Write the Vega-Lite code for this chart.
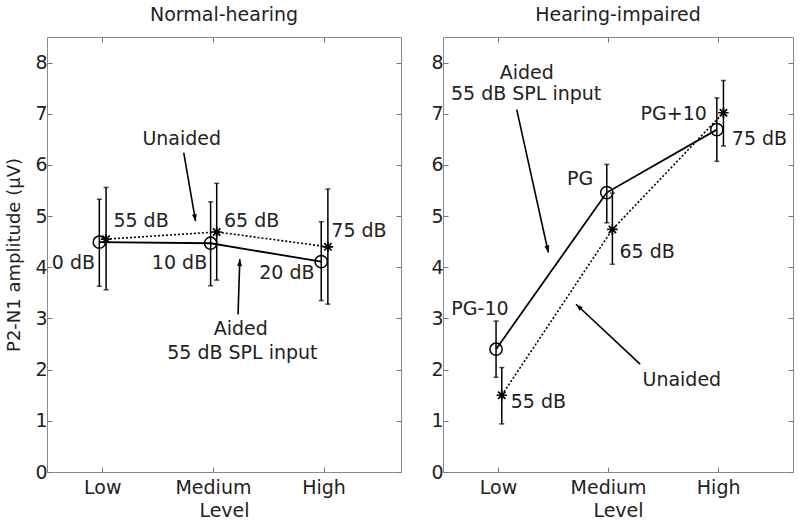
{
  "$schema": "https://vega.github.io/schema/vega-lite/v6.json",
  "background": "white",
  "padding": 5,
  "datasets": {
    "points": [
      {"panel": "NH", "level": "Low", "cond": "Aided", "x": 0.973, "mean": 4.49, "lo": 3.63, "hi": 5.33},
      {"panel": "NH", "level": "Low", "cond": "Unaided", "x": 1.034, "mean": 4.55, "lo": 3.56, "hi": 5.56},
      {"panel": "NH", "level": "Medium", "cond": "Aided", "x": 1.979, "mean": 4.47, "lo": 3.64, "hi": 5.28},
      {"panel": "NH", "level": "Medium", "cond": "Unaided", "x": 2.034, "mean": 4.69, "lo": 3.75, "hi": 5.64},
      {"panel": "NH", "level": "High", "cond": "Aided", "x": 2.979, "mean": 4.11, "lo": 3.35, "hi": 4.89},
      {"panel": "NH", "level": "High", "cond": "Unaided", "x": 3.039, "mean": 4.40, "lo": 3.28, "hi": 5.53},
      {"panel": "HI", "level": "Low", "cond": "Aided", "x": 0.982, "mean": 2.40, "lo": 1.85, "hi": 2.95},
      {"panel": "HI", "level": "Low", "cond": "Unaided", "x": 1.034, "mean": 1.50, "lo": 0.94, "hi": 2.04},
      {"panel": "HI", "level": "Medium", "cond": "Aided", "x": 1.988, "mean": 5.46, "lo": 4.87, "hi": 6.01},
      {"panel": "HI", "level": "Medium", "cond": "Unaided", "x": 2.039, "mean": 4.74, "lo": 4.06, "hi": 5.45},
      {"panel": "HI", "level": "High", "cond": "Aided", "x": 2.988, "mean": 6.69, "lo": 6.07, "hi": 7.31},
      {"panel": "HI", "level": "High", "cond": "Unaided", "x": 3.048, "mean": 7.02, "lo": 6.37, "hi": 7.65}
    ],
    "labels_center": [
      {"panel": "NH", "text": "Unaided", "x": 1.718, "y": 6.50},
      {"panel": "NH", "text": "Aided", "x": 2.252, "y": 2.79},
      {"panel": "NH", "text": "55 dB SPL input", "x": 2.266, "y": 2.32},
      {"panel": "HI", "text": "Aided", "x": 1.261, "y": 7.80},
      {"panel": "HI", "text": "55 dB SPL input", "x": 1.255, "y": 7.38},
      {"panel": "HI", "text": "PG-10", "x": 0.836, "y": 3.18},
      {"panel": "HI", "text": "PG", "x": 1.745, "y": 5.73},
      {"panel": "HI", "text": "Unaided", "x": 2.67, "y": 1.80}
    ],
    "labels_left": [
      {"panel": "NH", "text": "55 dB", "x": 1.10, "y": 4.90},
      {"panel": "NH", "text": "65 dB", "x": 2.10, "y": 4.90},
      {"panel": "NH", "text": "75 dB", "x": 3.07, "y": 4.71},
      {"panel": "HI", "text": "75 dB", "x": 3.124, "y": 6.50},
      {"panel": "HI", "text": "65 dB", "x": 2.103, "y": 4.29},
      {"panel": "HI", "text": "55 dB", "x": 1.115, "y": 1.36}
    ],
    "labels_right": [
      {"panel": "NH", "text": "0 dB", "x": 0.934, "y": 4.09},
      {"panel": "NH", "text": "10 dB", "x": 1.948, "y": 4.09},
      {"panel": "NH", "text": "20 dB", "x": 2.918, "y": 3.88},
      {"panel": "HI", "text": "PG+10", "x": 2.897, "y": 6.99}
    ],
    "arrows": [
      {"panel": "NH", "x": 1.736, "y": 6.24, "x2": 1.843, "y2": 4.90, "angle": 170.3},
      {"panel": "NH", "x": 2.227, "y": 3.08, "x2": 2.243, "y2": 4.16, "angle": 1.8},
      {"panel": "HI", "x": 1.170, "y": 7.08, "x2": 1.457, "y2": 4.29, "angle": 167.6},
      {"panel": "HI", "x": 2.291, "y": 2.107, "x2": 1.709, "y2": 3.278, "angle": 313.2}
    ]
  },
  "config": {
    "font": "DejaVu Sans",
    "view": {"stroke": "#8a8a8a", "strokeWidth": 1},
    "axis": {
      "domain": false, "grid": false,
      "labelFont": "DejaVu Sans", "labelFontSize": 19, "labelColor": "#222",
      "titleFont": "DejaVu Sans", "titleFontSize": 18, "titleFontWeight": "normal", "titleColor": "#222",
      "tickColor": "#777", "tickSize": -5, "tickWidth": 1, "labelPadding": 5
    },
    "axisBottom": {"labelPadding": 11, "titleFontSize": 19},
    "title": {"font": "DejaVu Sans", "fontSize": 19, "fontWeight": "normal", "color": "#222", "offset": 12},
    "text": {"font": "DejaVu Sans", "fontSize": 19, "color": "#222"},
    "concat": {"spacing": 28}
  },
  "hconcat": [
    {
      "width": 354, "height": 435,
      "title": {"text": "Normal-hearing"},
      "resolve": {"axis": {"x": "independent", "y": "independent"}},
      "layer": [
        {
          "data": {"name": "points"},
          "transform": [{"filter": "datum.panel == 'NH'"}],
          "mark": {"type": "rule", "color": "black", "strokeWidth": 1.5},
          "encoding": {
            "x": {"field": "x", "type": "quantitative", "scale": {"domain": [0.5, 3.7], "nice": false, "zero": false},
                  "axis": {"values": [1, 2, 3], "labelExpr": "datum.value == 1 ? 'Low' : datum.value == 2 ? 'Medium' : 'High'", "title": "Level", "titlePadding": 4}},
            "y": {"field": "lo", "type": "quantitative", "scale": {"domain": [0, 8.5], "nice": false, "zero": false},
                  "axis": {"values": [0, 1, 2, 3, 4, 5, 6, 7, 8], "title": "P2-N1 amplitude (\u03bcV)", "titlePadding": 11}},
            "y2": {"field": "hi"}
          }
        },
        {
          "data": {"name": "points"},
          "transform": [{"filter": "datum.panel == 'NH'"}],
          "mark": {"type": "point", "opacity": 0},
          "encoding": {
            "x": {"field": "x", "type": "quantitative", "axis": {"orient": "top", "values": [1, 2, 3], "labels": false, "title": null}},
            "y": {"field": "mean", "type": "quantitative", "axis": {"orient": "right", "values": [0, 1, 2, 3, 4, 5, 6, 7, 8], "labels": false, "title": null}}
          }
        },
        {
          "data": {"name": "points"},
          "transform": [{"filter": "datum.panel == 'NH'"}],
          "mark": {"type": "tick", "orient": "horizontal", "color": "black", "size": 5, "thickness": 1.5},
          "encoding": {"x": {"field": "x", "type": "quantitative", "axis": null}, "y": {"field": "lo", "type": "quantitative", "axis": null}}
        },
        {
          "data": {"name": "points"},
          "transform": [{"filter": "datum.panel == 'NH'"}],
          "mark": {"type": "tick", "orient": "horizontal", "color": "black", "size": 5, "thickness": 1.5},
          "encoding": {"x": {"field": "x", "type": "quantitative", "axis": null}, "y": {"field": "hi", "type": "quantitative", "axis": null}}
        },
        {
          "data": {"name": "points"},
          "transform": [{"filter": "datum.panel == 'NH' && datum.cond == 'Aided'"}],
          "mark": {"type": "line", "color": "black", "strokeWidth": 1.8},
          "encoding": {"x": {"field": "x", "type": "quantitative", "axis": null}, "y": {"field": "mean", "type": "quantitative", "axis": null}}
        },
        {
          "data": {"name": "points"},
          "transform": [{"filter": "datum.panel == 'NH' && datum.cond == 'Unaided'"}],
          "mark": {"type": "line", "color": "black", "strokeWidth": 1.6, "strokeDash": [2, 2]},
          "encoding": {"x": {"field": "x", "type": "quantitative", "axis": null}, "y": {"field": "mean", "type": "quantitative", "axis": null}}
        },
        {
          "data": {"name": "points"},
          "transform": [{"filter": "datum.panel == 'NH' && datum.cond == 'Aided'"}],
          "mark": {"type": "point", "shape": "circle", "filled": false, "stroke": "black", "strokeWidth": 1.5, "size": 150, "opacity": 1},
          "encoding": {"x": {"field": "x", "type": "quantitative", "axis": null}, "y": {"field": "mean", "type": "quantitative", "axis": null}}
        },
        {
          "data": {"name": "points"},
          "transform": [{"filter": "datum.panel == 'NH' && datum.cond == 'Unaided'"}],
          "mark": {"type": "point", "shape": "M-1,0L1,0M0,-1L0,1M-0.7,-0.7L0.7,0.7M-0.7,0.7L0.7,-0.7", "filled": false, "stroke": "black", "strokeWidth": 1.7, "size": 110, "opacity": 1},
          "encoding": {"x": {"field": "x", "type": "quantitative", "axis": null}, "y": {"field": "mean", "type": "quantitative", "axis": null}}
        },
        {
          "data": {"name": "arrows"},
          "transform": [{"filter": "datum.panel == 'NH'"}],
          "mark": {"type": "rule", "color": "black", "strokeWidth": 1.6},
          "encoding": {"x": {"field": "x", "type": "quantitative", "axis": null}, "y": {"field": "y", "type": "quantitative", "axis": null}, "x2": {"field": "x2"}, "y2": {"field": "y2"}}
        },
        {
          "data": {"name": "arrows"},
          "transform": [{"filter": "datum.panel == 'NH'"}],
          "mark": {"type": "point", "shape": "M0,0L-0.35,1L0.35,1Z", "filled": true, "color": "black", "size": 196, "opacity": 1},
          "encoding": {"x": {"field": "x2", "type": "quantitative", "axis": null}, "y": {"field": "y2", "type": "quantitative", "axis": null}, "angle": {"field": "angle", "type": "quantitative", "scale": null}}
        },
        {
          "data": {"name": "labels_center"},
          "transform": [{"filter": "datum.panel == 'NH'"}],
          "mark": {"type": "text", "align": "center", "baseline": "middle"},
          "encoding": {"x": {"field": "x", "type": "quantitative", "axis": null}, "y": {"field": "y", "type": "quantitative", "axis": null}, "text": {"field": "text"}}
        },
        {
          "data": {"name": "labels_left"},
          "transform": [{"filter": "datum.panel == 'NH'"}],
          "mark": {"type": "text", "align": "left", "baseline": "middle"},
          "encoding": {"x": {"field": "x", "type": "quantitative", "axis": null}, "y": {"field": "y", "type": "quantitative", "axis": null}, "text": {"field": "text"}}
        },
        {
          "data": {"name": "labels_right"},
          "transform": [{"filter": "datum.panel == 'NH'"}],
          "mark": {"type": "text", "align": "right", "baseline": "middle"},
          "encoding": {"x": {"field": "x", "type": "quantitative", "axis": null}, "y": {"field": "y", "type": "quantitative", "axis": null}, "text": {"field": "text"}}
        }
      ]
    },
    {
      "width": 350, "height": 435,
      "title": {"text": "Hearing-impaired"},
      "resolve": {"axis": {"x": "independent", "y": "independent"}},
      "layer": [
        {
          "data": {"name": "points"},
          "transform": [{"filter": "datum.panel == 'HI'"}],
          "mark": {"type": "rule", "color": "black", "strokeWidth": 1.5},
          "encoding": {
            "x": {"field": "x", "type": "quantitative", "scale": {"domain": [0.5, 3.68], "nice": false, "zero": false},
                  "axis": {"values": [1, 2, 3], "labelExpr": "datum.value == 1 ? 'Low' : datum.value == 2 ? 'Medium' : 'High'", "title": "Level", "titlePadding": 4}},
            "y": {"field": "lo", "type": "quantitative", "scale": {"domain": [0, 8.5], "nice": false, "zero": false},
                  "axis": {"values": [0, 1, 2, 3, 4, 5, 6, 7, 8], "title": null}},
            "y2": {"field": "hi"}
          }
        },
        {
          "data": {"name": "points"},
          "transform": [{"filter": "datum.panel == 'HI'"}],
          "mark": {"type": "point", "opacity": 0},
          "encoding": {
            "x": {"field": "x", "type": "quantitative", "axis": {"orient": "top", "values": [1, 2, 3], "labels": false, "title": null}},
            "y": {"field": "mean", "type": "quantitative", "axis": {"orient": "right", "values": [0, 1, 2, 3, 4, 5, 6, 7, 8], "labels": false, "title": null}}
          }
        },
        {
          "data": {"name": "points"},
          "transform": [{"filter": "datum.panel == 'HI'"}],
          "mark": {"type": "tick", "orient": "horizontal", "color": "black", "size": 5, "thickness": 1.5},
          "encoding": {"x": {"field": "x", "type": "quantitative", "axis": null}, "y": {"field": "lo", "type": "quantitative", "axis": null}}
        },
        {
          "data": {"name": "points"},
          "transform": [{"filter": "datum.panel == 'HI'"}],
          "mark": {"type": "tick", "orient": "horizontal", "color": "black", "size": 5, "thickness": 1.5},
          "encoding": {"x": {"field": "x", "type": "quantitative", "axis": null}, "y": {"field": "hi", "type": "quantitative", "axis": null}}
        },
        {
          "data": {"name": "points"},
          "transform": [{"filter": "datum.panel == 'HI' && datum.cond == 'Aided'"}],
          "mark": {"type": "line", "color": "black", "strokeWidth": 1.8},
          "encoding": {"x": {"field": "x", "type": "quantitative", "axis": null}, "y": {"field": "mean", "type": "quantitative", "axis": null}}
        },
        {
          "data": {"name": "points"},
          "transform": [{"filter": "datum.panel == 'HI' && datum.cond == 'Unaided'"}],
          "mark": {"type": "line", "color": "black", "strokeWidth": 1.6, "strokeDash": [2, 2]},
          "encoding": {"x": {"field": "x", "type": "quantitative", "axis": null}, "y": {"field": "mean", "type": "quantitative", "axis": null}}
        },
        {
          "data": {"name": "points"},
          "transform": [{"filter": "datum.panel == 'HI' && datum.cond == 'Aided'"}],
          "mark": {"type": "point", "shape": "circle", "filled": false, "stroke": "black", "strokeWidth": 1.5, "size": 150, "opacity": 1},
          "encoding": {"x": {"field": "x", "type": "quantitative", "axis": null}, "y": {"field": "mean", "type": "quantitative", "axis": null}}
        },
        {
          "data": {"name": "points"},
          "transform": [{"filter": "datum.panel == 'HI' && datum.cond == 'Unaided'"}],
          "mark": {"type": "point", "shape": "M-1,0L1,0M0,-1L0,1M-0.7,-0.7L0.7,0.7M-0.7,0.7L0.7,-0.7", "filled": false, "stroke": "black", "strokeWidth": 1.7, "size": 110, "opacity": 1},
          "encoding": {"x": {"field": "x", "type": "quantitative", "axis": null}, "y": {"field": "mean", "type": "quantitative", "axis": null}}
        },
        {
          "data": {"name": "arrows"},
          "transform": [{"filter": "datum.panel == 'HI'"}],
          "mark": {"type": "rule", "color": "black", "strokeWidth": 1.6},
          "encoding": {"x": {"field": "x", "type": "quantitative", "axis": null}, "y": {"field": "y", "type": "quantitative", "axis": null}, "x2": {"field": "x2"}, "y2": {"field": "y2"}}
        },
        {
          "data": {"name": "arrows"},
          "transform": [{"filter": "datum.panel == 'HI'"}],
          "mark": {"type": "point", "shape": "M0,0L-0.35,1L0.35,1Z", "filled": true, "color": "black", "size": 196, "opacity": 1},
          "encoding": {"x": {"field": "x2", "type": "quantitative", "axis": null}, "y": {"field": "y2", "type": "quantitative", "axis": null}, "angle": {"field": "angle", "type": "quantitative", "scale": null}}
        },
        {
          "data": {"name": "labels_center"},
          "transform": [{"filter": "datum.panel == 'HI'"}],
          "mark": {"type": "text", "align": "center", "baseline": "middle"},
          "encoding": {"x": {"field": "x", "type": "quantitative", "axis": null}, "y": {"field": "y", "type": "quantitative", "axis": null}, "text": {"field": "text"}}
        },
        {
          "data": {"name": "labels_left"},
          "transform": [{"filter": "datum.panel == 'HI'"}],
          "mark": {"type": "text", "align": "left", "baseline": "middle"},
          "encoding": {"x": {"field": "x", "type": "quantitative", "axis": null}, "y": {"field": "y", "type": "quantitative", "axis": null}, "text": {"field": "text"}}
        },
        {
          "data": {"name": "labels_right"},
          "transform": [{"filter": "datum.panel == 'HI'"}],
          "mark": {"type": "text", "align": "right", "baseline": "middle"},
          "encoding": {"x": {"field": "x", "type": "quantitative", "axis": null}, "y": {"field": "y", "type": "quantitative", "axis": null}, "text": {"field": "text"}}
        }
      ]
    }
  ]
}
